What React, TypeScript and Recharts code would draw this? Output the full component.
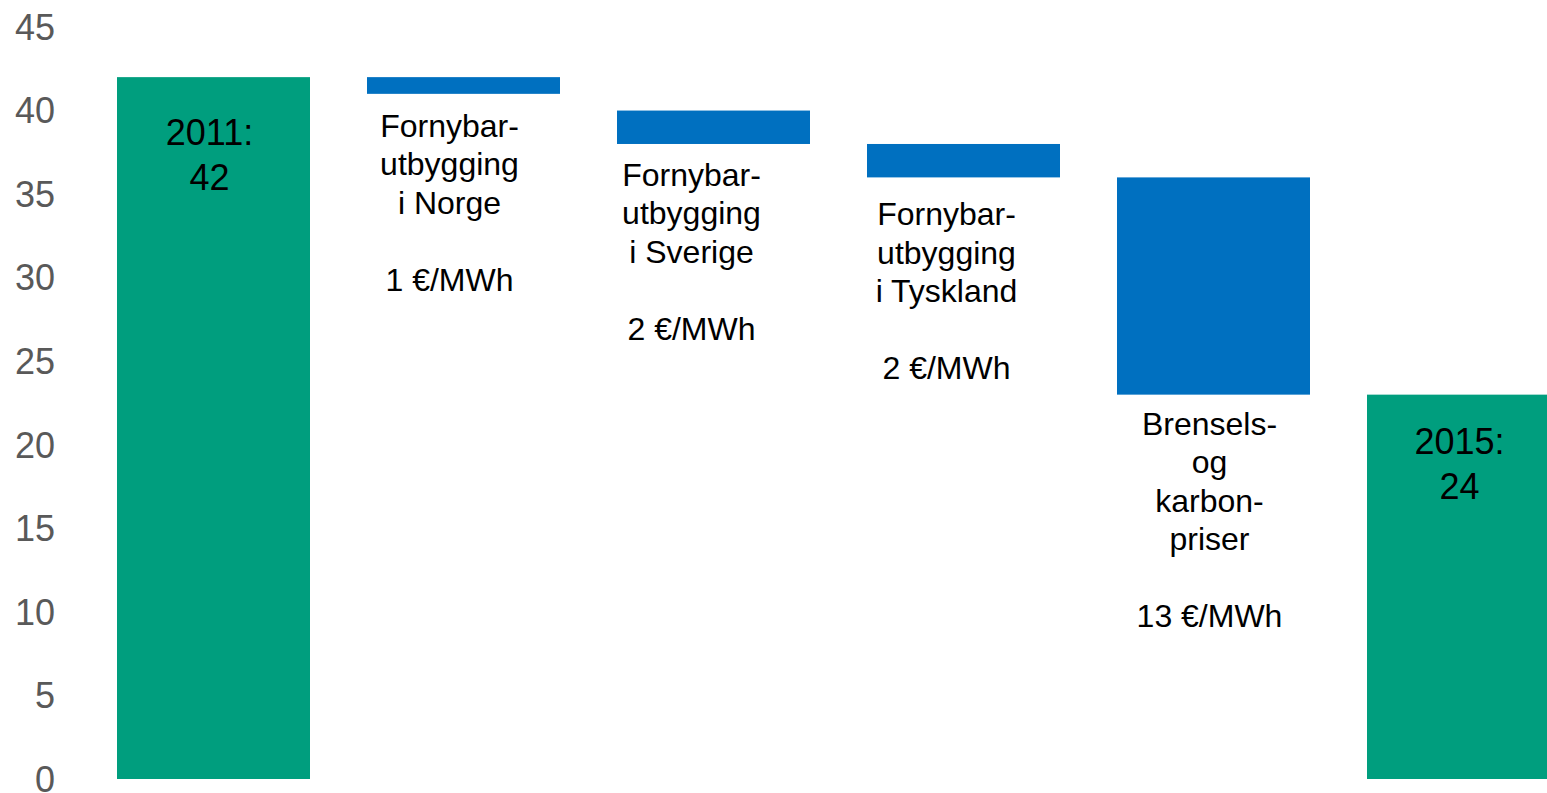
import React from 'react';
import { BarChart, Bar, XAxis, YAxis } from 'recharts';

const categories = ['2011', 'Norge', 'Sverige', 'Tyskland', 'Brensel', '2015'];
const baseValues = [0, 41, 38, 36, 23, 0];
const deltaValues = [42, 1, 2, 2, 13, 23];
const kinds = ['total', 'change', 'change', 'change', 'change', 'total'];
const labelLines = [
  ['2011:', '42'],
  ['Fornybar-', 'utbygging', 'i Norge', '', '1 €/MWh'],
  ['Fornybar-', 'utbygging', 'i Sverige', '', '2 €/MWh'],
  ['Fornybar-', 'utbygging', 'i Tyskland', '', '2 €/MWh'],
  ['Brensels-', 'og', 'karbon-', 'priser', '', '13 €/MWh'],
  ['2015:', '24'],
];
const yTicks = [0, 5, 10, 15, 20, 25, 30, 35, 40, 45];

// label placement (style only): horizontal shift from bar centre, gap to first line
const labelShiftX = [-4, -14, -22, -17, -4, -4];
const labelGapY = [55, 32, 31, 37, 29, 47];

const data = categories.map((name, i) => ({
  name,
  base: baseValues[i],
  delta: deltaValues[i],
  kind: kinds[i],
  lines: labelLines[i],
}));

const GREEN = '#009E7E';
const BLUE = '#0070C0';
const FONT = '"Liberation Sans", Arial, sans-serif';

const WaterfallShape = (props: any) => {
  const { x, y, width, height, payload, index } = props;
  const isTotal = payload.kind === 'total';
  const cx = x + width / 2 + (labelShiftX[index] ?? 0);
  const lines: string[] = payload.lines || [];
  const gap = labelGapY[index] ?? 30;
  const lh = isTotal ? 45 : 38.5;
  const fs = isTotal ? 36 : 32;
  const start = isTotal ? y + gap : y + height + gap;
  return (
    <g>
      <rect x={x} y={y} width={width} height={height} fill={isTotal ? GREEN : BLUE} />
      {lines.map((t, i) => (
        <text key={i} x={cx} y={start + i * lh} textAnchor="middle" dominantBaseline="central"
          fontSize={fs} fontFamily={FONT} fill="#000">{t}</text>
      ))}
    </g>
  );
};

export default function App() {
  return (
    <div style={{ position: 'fixed', left: 0, top: 0, width: 1547, height: 793, overflow: 'hidden', background: '#fff' }}>
      <BarChart width={1600} height={793} data={data} margin={{ top: 27, right: 12, bottom: 14, left: 0 }} barSize={193}>
        <XAxis dataKey="name" hide />
        <YAxis
          domain={[0, 45]}
          ticks={yTicks}
          interval={0}
          axisLine={false}
          tickLine={false}
          tickSize={0}
          tickMargin={33}
          width={88}
          tick={{ fill: '#595959', fontSize: 36, fontFamily: FONT }}
        />
        <Bar dataKey="base" stackId="a" fill="transparent" isAnimationActive={false} />
        <Bar dataKey="delta" stackId="a" isAnimationActive={false} shape={WaterfallShape} />
      </BarChart>
    </div>
  );
}
